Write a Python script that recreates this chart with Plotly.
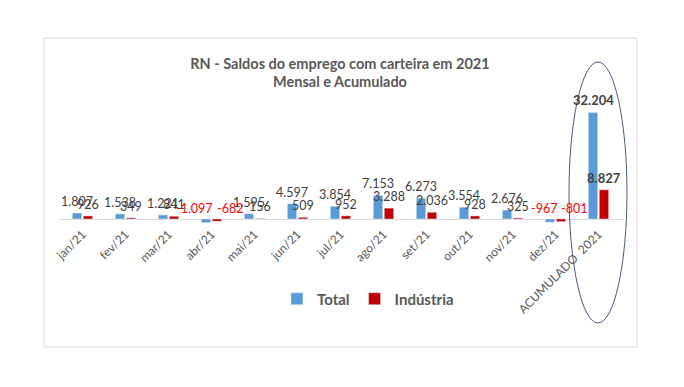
import plotly.graph_objects as go

categories = ["jan/21", "fev/21", "mar/21", "abr/21", "mai/21", "jun/21", "jul/21",
              "ago/21", "set/21", "out/21", "nov/21", "dez/21", "ACUMULADO  2021"]
total = [1807, 1538, 1221, -1097, 1595, 4597, 3854, 7153, 6273, 3554, 2676, -967, 32204]
industria = [926, 349, 841, -682, 156, 509, 952, 3288, 2036, 928, 325, -801, 8827]
labels_total = ["1.807", "1.538", "1.221", "-1.097", "1.595", "4.597", "3.854", "7.153",
                "6.273", "3.554", "2.676", "-967", "32.204"]
labels_ind = ["926", "349", "841", "-682", "156", "509", "952", "3.288",
              "2.036", "928", "325", "-801", "8.827"]

BLUE = "#5B9BD5"
RED = "#C00000"
FONT = "Lato"

# page has an 8px body margin; figure is sized/offset to compensate
W, H = 676, 379
OFF = 8
PL, PR, PT, PB = 59 - OFF, 623 - OFF, 80 - OFF, 224 - OFF
PW, PH = PR - PL, PB - PT


def px(xp):
    return (xp - OFF - PL) / PW


def py(yp):
    return (PB - (yp - OFF)) / PH


fig = go.Figure()
fig.add_trace(go.Bar(name="<b>Total</b>", x=categories, y=total, marker_color=BLUE))
fig.add_trace(go.Bar(name="<b>Indústria</b>", x=categories, y=industria, marker_color=RED))

annotations = []
last = len(categories) - 1
for i, c in enumerate(categories):
    for vals, labs, side in ((total, labels_total, -1), (industria, labels_ind, 1)):
        v = vals[i]
        neg = v < 0
        bold = i == last
        if neg:
            xa = "right" if side < 0 else "left"
            xs = 3 if side < 0 else 3
            ys = 1
        else:
            xa = "center"
            xs = 5.5 * side
            ys = 2
        annotations.append(dict(
            x=c, y=max(v, 0), xref="x", yref="y", text=("<b>%s</b>" % labs[i]) if bold else labs[i],
            showarrow=False, yanchor="bottom", xanchor=xa, xshift=xs, yshift=ys,
            font=dict(family=FONT, size=13 if bold else 12.5,
                      color="#FF0000" if neg else "#404040"),
        ))

fig.update_layout(
    width=W, height=H,
    margin=dict(l=PL, r=W - PR, t=PT, b=H - PB, autoexpand=False),
    paper_bgcolor="white", plot_bgcolor="white",
    barmode="group", bargap=0.49, bargroupgap=0.14,
    title=dict(text="<b>RN - Saldos do emprego com carteira em 2021<br>Mensal e Acumulado</b>",
               x=(340 - OFF) / W, xanchor="center", y=1 - (68.5 - OFF) / H, yanchor="middle",
               xref="container", yref="container",
               font=dict(family=FONT, size=14.5, color="#595959")),
    showlegend=True,
    legend=dict(orientation="h", x=px(368), xanchor="center", y=py(299),
                yanchor="middle", font=dict(family=FONT, size=15, color="#595959"),
                itemwidth=30, bgcolor="rgba(0,0,0,0)"),
    xaxis=dict(type="category", tickangle=-45, showgrid=False, showline=False, ticks="",
               automargin=False,
               tickfont=dict(family=FONT, size=12, color="#595959")),
    yaxis=dict(range=[-1510, (219 - 80) / 0.00331], showticklabels=False, showgrid=False,
               automargin=False,
               zeroline=True, zerolinecolor="#d9d9d9", zerolinewidth=1),
    annotations=annotations,
    shapes=[
        dict(type="rect", xref="paper", yref="paper",
             x0=px(44), x1=px(637), y0=py(347), y1=py(38),
             line=dict(color="#d9d9d9", width=1)),
        dict(type="circle", xref="paper", yref="paper",
             x0=px(569), x1=px(627), y0=py(323), y1=py(62),
             line=dict(color="#4A5A80", width=1)),
    ],
)

fig.write_html("out.html")
